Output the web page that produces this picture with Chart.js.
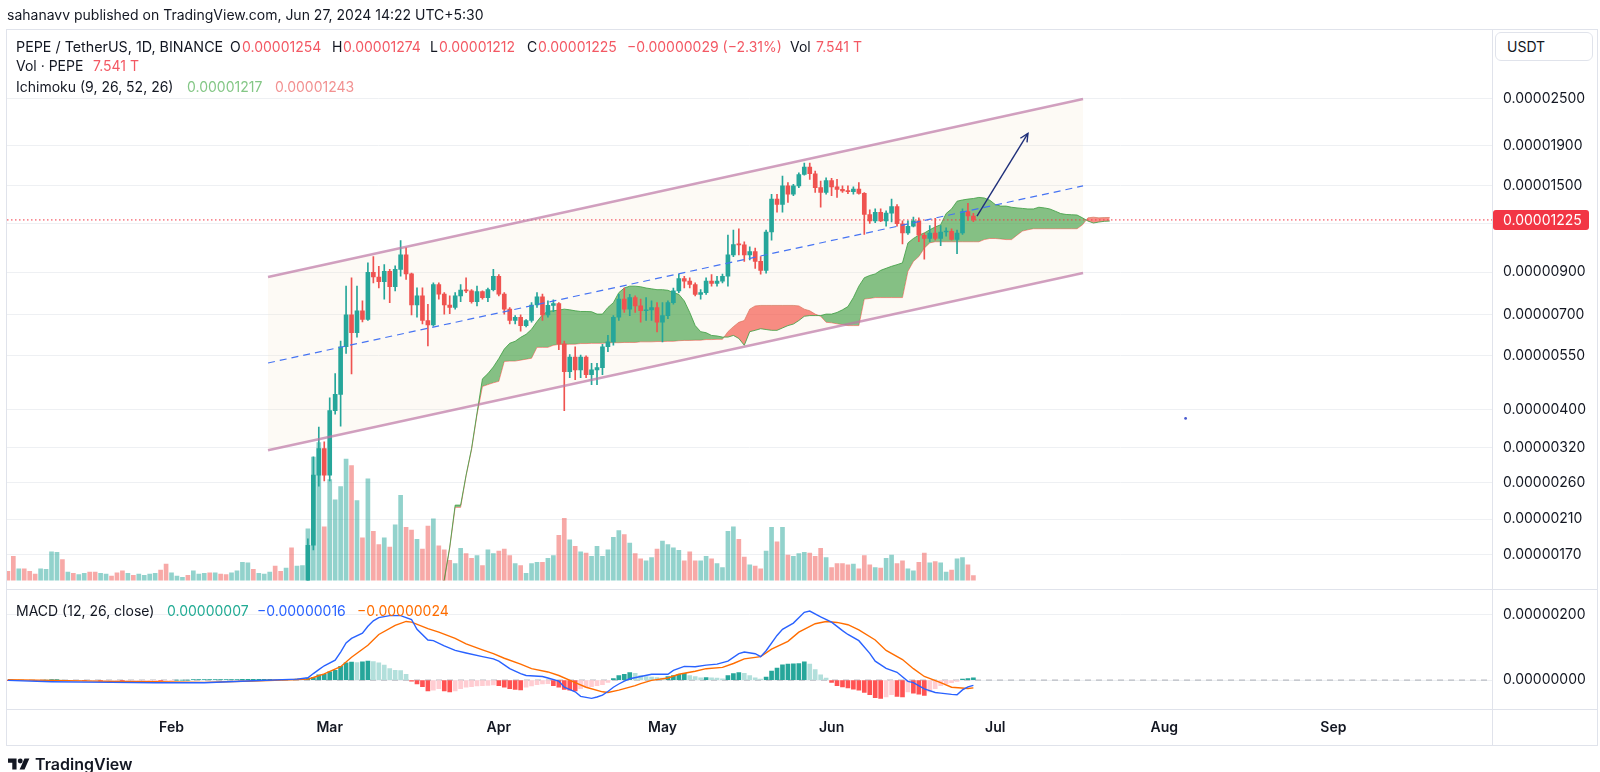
<!DOCTYPE html>
<html>
<head>
<meta charset="utf-8">
<script src="https://cdn.jsdelivr.net/npm/chart.js@4.4.1/dist/chart.umd.min.js"></script>
<style>
html,body{margin:0;padding:0;background:#fff;width:1600px;height:772px;overflow:hidden;font-family:Inter,"Noto Sans","DejaVu Sans",sans-serif;color:#131722;}
canvas{position:absolute;left:0;}
#cMain{top:0;}
#cMacd{top:580px;}
.txt{position:absolute;white-space:nowrap;font-size:14px;line-height:16px;z-index:5;}
.r{color:#f35863;}
.frame{position:absolute;border:1px solid #e0e3eb;box-sizing:border-box;left:6px;top:29px;width:1592px;height:717px;z-index:1;pointer-events:none;}
.hl{position:absolute;height:1px;background:#e0e3eb;left:6px;width:1592px;z-index:1;}
.vl{position:absolute;width:1px;background:#e0e3eb;z-index:1;}
#usdt{position:absolute;left:1495px;top:32px;width:98px;height:29px;box-sizing:border-box;border:1px solid #e0e3eb;border-radius:6px;font-size:14px;line-height:27px;padding-left:11px;z-index:5;background:#fff;}
#footer{position:absolute;left:8px;top:754px;display:flex;align-items:center;gap:5px;font-size:16px;font-weight:600;z-index:5;}
</style>
</head>
<body>
<canvas id="cMain" width="1600" height="600"></canvas>
<canvas id="cMacd" width="1600" height="192"></canvas>

<div class="frame"></div>
<div class="hl" style="top:589px"></div>
<div class="hl" style="top:709px"></div>
<div class="vl" style="left:1492px;top:29px;height:717px"></div>

<div class="txt" style="left:7px;top:7px">sahanavv published on TradingView.com, Jun 27, 2024 14:22 UTC+5:30</div>

<div class="txt" style="left:16px;top:39px;font-size:14.3px">PEPE / TetherUS, 1D, BINANCE</div>
<div class="txt" style="left:230px;top:39px">O</div><div class="txt r" style="left:242px;top:39px">0.00001254</div>
<div class="txt" style="left:332px;top:39px">H</div><div class="txt r" style="left:343px;top:39px">0.00001274</div>
<div class="txt" style="left:430px;top:39px">L</div><div class="txt r" style="left:439px;top:39px">0.00001212</div>
<div class="txt" style="left:527px;top:39px">C</div><div class="txt r" style="left:538px;top:39px">0.00001225</div>
<div class="txt r" style="left:627px;top:39px">−0.00000029 (−2.31%)</div>
<div class="txt" style="left:790px;top:39px">Vol</div><div class="txt r" style="left:816px;top:39px">7.541 T</div>

<div class="txt" style="left:16px;top:58px">Vol · PEPE</div><div class="txt r" style="left:93px;top:58px">7.541 T</div>
<div class="txt" style="left:16px;top:79px">Ichimoku (9, 26, 52, 26)</div>
<div class="txt" style="left:187px;top:79px;color:#84c786">0.00001217</div>
<div class="txt" style="left:275px;top:79px;color:#f29191">0.00001243</div>

<div class="txt" style="left:16px;top:603px">MACD (12, 26, close)</div>
<div class="txt" style="left:167px;top:603px;color:#22ab94">0.00000007</div>
<div class="txt" style="left:257px;top:603px;color:#2962ff">−0.00000016</div>
<div class="txt" style="left:357px;top:603px;color:#ff6d00">−0.00000024</div>

<div id="usdt">USDT</div>

<div id="footer">
<svg width="22" height="16" viewBox="0 0 36 26"><path d="M14 22H7V11H0V4h14z" fill="#131722"/><circle cx="20" cy="8" r="4" fill="#131722"/><path d="M27 4h8L27 22h-8z" fill="#131722"/></svg>
<span>TradingView</span>
</div>

<script>
// ---------------- DATA (prices in units of 1e-8 USDT, volume in trillions PEPE) ----------------
const UNIT = 1e-8;
const firstDay = 1;            // day index: 0 = 2024-01-01, so first candle = Jan 2
const monthTickDays = [31, 60, 91, 121, 152, 182, 213, 244];
const monthTickLabels = ['Feb', 'Mar', 'Apr', 'May', 'Jun', 'Jul', 'Aug', 'Sep'];
const priceTicks = [170, 210, 260, 320, 400, 550, 700, 900, 1200, 1500, 1900, 2500];
const macdTicks = [0, 200];

const open = [138,132,124,127,122,118,116,119,123,130, 134,126,128,124,126,127,124,119,121,122,
118,113,104,106,103,105,107,108,110,106, 101,104,105,106,104,108,109,110,108,110,
108,107,109,112,120,124,119,121,122,124, 118,116,119,113,117,124,180,272,318,272,
398,438,580,700,630,717,681,899,875,851, 905,826,915,997,891,742,783,677,660,837,
791,742,731,783,810,806,757,803,775,812, 879,791,724,677,690,657,677,742,779,700,
740,748,590,501,546,506,546,492,506,513, 580,597,690,768,724,775,738,717,721,731,
670,697,752,806,867,854,837,790,798,854, 842,854,879,997,1060,1057,997,1016,959,910,
1141,1385,1342,1497,1425,1497,1601,1672,1608,1482, 1440,1545,1488,1467,1453,1448,1470,1432,1265,1217,
1282,1217,1275,1325,1198,1134,1180,1219,1119,1098, 1134,1098,1141,1145,1092,1134,1287,1254];
const high = [140,134,129,129,124,120,121,125,132,137, 135,130,129,127,129,128,125,122,123,123,
119,114,107,107,106,108,109,111,111,107, 105,106,107,107,109,110,111,111,111,111,
109,110,113,122,126,125,122,123,125,126, 119,120,121,118,128,187,303,361,331,429,
495,600,829,871,829,760,951,987,932,941, 915,935,1085,1039,895,821,821,745,845,845,
798,783,798,837,871,812,829,806,820,915, 887,798,731,697,700,681,752,798,791,760,
765,752,600,554,580,552,550,526,526,588, 620,697,790,820,790,783,768,775,760,752,
752,760,820,890,879,871,845,812,871,887, 879,890,1120,1153,1163,1077,1046,1037,987,1153,
1425,1425,1586,1526,1511,1617,1712,1714,1633,1540, 1571,1565,1556,1497,1497,1488,1526,1440,1300,1307,
1307,1292,1385,1342,1219,1219,1245,1240,1134,1185, 1237,1185,1170,1163,1153,1307,1351,1274];
const low = [131,122,122,120,116,114,115,118,122,128, 124,125,122,123,125,122,118,118,120,117,
112,101,102,102,102,104,106,107,105,99, 100,103,104,103,103,107,108,107,107,107,
106,106,108,111,118,118,118,120,121,117, 115,115,111,112,116,122,175,255,263,263,
390,363,558,494,614,671,677,845,820,768, 752,806,879,863,700,690,664,583,655,768,
703,705,724,757,798,750,738,768,757,806, 783,703,664,664,636,652,670,731,677,690,
713,570,398,483,478,483,483,464,464,492, 563,585,677,710,697,710,670,677,677,633,
597,684,745,798,820,820,783,768,790,829, 829,845,829,987,997,959,968,921,890,895,
1088,1282,1282,1359,1413,1482,1595,1556,1440,1320, 1425,1413,1399,1440,1430,1425,1425,1125,1200,1206,
1212,1180,1210,1180,1063,1125,1175,1077,972,1077, 1088,1052,1113,1088,1004,1125,1222,1212];
const close = [132,124,127,122,118,116,119,123,130,134, 126,128,124,126,127,124,119,121,122,118,
113,104,106,103,105,107,108,110,106,101, 104,105,106,104,108,109,110,108,110,108,
107,109,112,120,124,119,121,122,124,118, 116,119,113,117,124,180,272,318,272,398,
438,580,700,630,717,681,899,875,851,905, 826,915,997,891,742,783,677,660,837,791,
742,731,783,810,806,757,803,775,812,879, 791,724,677,690,657,677,742,779,700,740,
748,590,501,546,506,546,492,506,513,580, 597,690,768,724,775,738,717,721,731,670,
697,752,806,867,854,837,790,798,854,842, 854,879,997,1060,1057,997,1016,959,910,1141,
1385,1342,1497,1425,1497,1601,1672,1608,1482,1440, 1545,1488,1467,1453,1448,1470,1432,1265,1217,1282,
1217,1275,1325,1198,1134,1180,1219,1119,1098,1134, 1098,1141,1145,1092,1134,1287,1254,1225];
const volumeT = [14,37,18,18,14,10,18,17,44,43, 32,13,11,9,11,13,13,11,10,7,
12,15,11,8,10,8,10,11,16,25, 12,7,5,8,15,10,11,12,12,10,
9,12,15,28,27,17,11,10,13,22, 14,19,50,22,23,79,188,210,82,154,
123,143,185,175,122,65,155,75,55,65, 51,85,130,81,77,63,48,83,94,53,
47,31,26,49,41,34,38,23,47,41, 45,48,38,26,23,11,26,28,28,34,
38,69,95,62,52,44,42,37,52,37, 47,66,76,70,57,41,33,30,35,48,
60,55,50,46,30,44,30,30,37,33, 26,20,75,82,63,36,24,22,18,45,
81,59,81,39,37,41,43,42,37,49, 35,20,26,26,24,25,18,38,24,20,
19,34,39,26,30,18,15,28,42,27, 29,27,13,16,33,35,24,7.541];

// MACD (12, 26, close) – histogram per day, lines read at sample days
const macdHist = [-1,-2,-2,-1,-1,-2,-1,0,1,1, 0,-1,-1,-1,-2,-2,-2,-3,-3,-3,
-3,-4,-3,-3,-2,-2,-1,-1,-2,-2, -1,0,0,0,1,1,1,1,1,1,
1,1,1,2,2,2,2,2,2,1, 1,2,2,3,4,6,8,16,18,25,
30,42,53,55,54,56,58,57,53,46, 35,30,29,18,-3,-12,-20,-33,-31,-26,
-33,-36,-33,-26,-21.5,-20,-18,-17,-16,-15, -17,-21.5,-26,-29,-30,-21.5,-18,-14,-12,-11,
-17,-21.5,-29,-31,-33,-26,-21.5,-20,-17,-14, -7.5,4.7,14,18,23,20.6,14,11,9,8,
6.5,11,14,18,20.6,14,11,7,8,7, 6,4,14,20,23,21,14,7,3,9,
28,37,47,49,50,51,56,49,32,16, 6.5,-7.5,-17,-21,-24,-28,-31,-38,-45,-54,
-56,-52,-45,-50,-52,-36,-40,-43,-47,-36, -26,-17,-12,-8,-4,3,5,7];
const macdDays = [1,9,20,28,37,46,54,56,57,58,59,61,62,63,64,66,67,68,69,71,73,75,76,78,79,81,83,85,88,90,91,93,95,96,99,100,102,103,105,106,108,109,110,111,112,113,114,115,117,119,122,123,125,127,129,131,133,135,136,138,139,140,142,143,145,147,148,150,152,154,155,157,159,160,162,164,166,167,169,171,172,174,175,176,177,178];
const macdLine = [-1,-5,-7,-8,-8,-2,3,7,20,32,44,61,86,114,128,144,165,182,192,198,198,186,156,123,121,105,91,83,72,65,58,35,20,14,11,6.5,-3,-22,-36,-50,-56,-52,-46,-35,-22,-12,-3,4,11,18,18,30,42,41,46,49,58,81,86,81,72,90,137,156,175,208,212,194,178,152,140,121,82,58,36,24,-4,-8,-27,-38,-40,-44,-45,-30,-21,-16];
const signalDays = [1,9,20,28,37,46,54,56,57,59,62,64,67,69,72,74,75,78,80,83,85,88,90,92,95,97,100,102,105,107,110,111,113,116,117,119,122,124,127,129,132,134,136,139,141,144,146,149,151,153,155,157,160,162,165,167,169,172,174,177,178];
const signalLine = [1,-1,-4,-5,-7,-3,2,3,8,19,41,70,107,140,168,180,178,158,147,128,111,93,81,67,49,35,25,14,-8,-22,-36,-38,-31,-17,-11,-1,6.5,18,27,35,39,51,65,72,95,119,147,173,180,177,170,154,123,91,63,35,11,-8,-22,-26,-24];

// Ichimoku (9, 26, 52, 26) leading spans, shifted 26 days ahead; first value at day 80
const cloudFirstDay = 80;
const spanA = [135,147,178,228,228,272,318,392,480,495, 515,541,572,592,599,613,624,643,673,700,
715,717,720,724,721,717,714,714,713,703, 703,731,752,798,820,829,829,826,820,816,
812,812,809,798,790,760,710,657,634,630, 620,618,614,614,620,609,585,634,639,645,
642,639,639,648,657,663,677,694,697,697, 697,703,703,710,721,735,775,829,871,883,
891,910,921,932,941,951,1070,1098,1120,1134, 1156,1175,1191,1272,1307,1368,1378,1385,1390,1399,
1394,1376,1342,1329,1329,1320,1315,1311,1307,1307, 1320,1315,1307,1290,1272,1265,1263,1261,1240,1217,
1203,1210,1215,1217];
const spanB = [133,146,177,225,225,271,316,388,459,464, 469,473,532,533,533,536,539,542,578,578,
578,585,588,588,589,589,591,591,592,592, 592,594,594,594,595,595,595,597,597,597,
598,598,599,599,601,602,602,603,603,605, 605,606,606,634,653,670,677,724,738,740,
740,740,740,740,740,740,738,724,717,703, 694,670,668,664,661,657,657,657,768,771,
775,775,775,775,775,775,905,959,987,1037, 1070,1077,1077,1077,1077,1077,1077,1077,1077,1077,
1091,1098,1098,1095,1091,1091,1120,1147,1156,1163, 1163,1163,1163,1163,1163,1163,1163,1163,1190,1240,
1245,1240,1242,1243];

// Drawings: parallel channel, arrow, dot, last price
const channelDays = [48.69, 198.1];
const channelUpper = [875.5, 2500];
const channelLower = [315, 896];
const channelMiddle = [527, 1497];
const arrowDays = [178.66, 188.0];
const arrowPrices = [1253, 2040];
const dotDays = [216.9];
const dotPrices = [380];
const lastPrice = 1225;

// ---------------- view ----------------
const X_MIN = 0.84, X_MAX = 273.07;
const P_MIN = 146.1, P_MAX = 3775.8;
const M_MIN = -90.3, M_MAX = 247.7;
const FONT = "Inter, 'Noto Sans', 'DejaVu Sans', sans-serif";
Chart.defaults.font.family = FONT;
Chart.defaults.color = '#131722';

const fmt = v => (v * UNIT).toFixed(8);
const days = open.map((_, i) => firstDay + i);
const isUp = i => close[i] >= open[i];
const GREEN = '#26a69a', RED = '#ef5350';
const candleColor = days.map((_, i) => isUp(i) ? GREEN : RED);
const volColor = days.map((_, i) => isUp(i) ? 'rgba(38,166,154,0.5)' : 'rgba(239,83,80,0.5)');
const pts = (xs, ys) => xs.map((x, i) => ({x, y: ys[i]}));
const cloudDays = spanA.map((_, i) => cloudFirstDay + i);

const lineDs = (data, color, width, extra) => Object.assign({
  type: 'line', data, borderColor: color, borderWidth: width, pointRadius: 0, fill: false, tension: 0
}, extra || {});

const ARROW_COLOR = '#1f2f7a';
const mainDatasets = [
  lineDs(pts(channelDays, channelUpper), 'rgba(0,0,0,0)', 0, {fill: '+1', backgroundColor: 'rgba(245,232,205,0.2)', order: 40}),
  lineDs(pts(channelDays, channelLower), 'rgba(0,0,0,0)', 0, {order: 40}),
  lineDs(pts(cloudDays, spanA), 'rgba(67,160,71,0.85)', 1, {fill: {target: '+1', above: 'rgba(67,160,71,0.65)', below: 'rgba(244,67,54,0.6)'}, order: 15}),
  lineDs(pts(cloudDays, spanB), 'rgba(244,67,54,0.5)', 1, {order: 15}),
  {type: 'bar', yAxisID: 'yVol', data: pts(days, volumeT), backgroundColor: volColor, barThickness: 4, grouped: false, clip: 0, order: 20},
  {type: 'bar', data: days.map((d, i) => ({x: d, y: [low[i], high[i]]})), backgroundColor: candleColor, barThickness: 1, grouped: false, clip: 0, order: 3},
  {type: 'bar', data: days.map((d, i) => ({x: d, y: [Math.min(open[i], close[i]), Math.max(open[i], close[i])]})), backgroundColor: candleColor, barThickness: 4, minBarLength: 1, grouped: false, clip: 0, order: 2},
  lineDs([{x: X_MIN, y: lastPrice}, {x: X_MAX, y: lastPrice}], '#f23645', 1, {borderDash: [1.5, 2.5], order: 4}),
  lineDs(pts(channelDays, channelUpper), 'rgba(190,120,165,0.7)', 2.5, {order: 1}),
  lineDs(pts(channelDays, channelLower), 'rgba(190,120,165,0.7)', 2.5, {order: 1}),
  lineDs(pts(channelDays, channelMiddle), '#4674f3', 1.2, {borderDash: [7, 5], order: 1}),
  lineDs(pts(arrowDays, arrowPrices), ARROW_COLOR, 1.4, {order: 0}),
  lineDs(pts(dotDays, dotPrices), '#4a5bd0', 0, {showLine: false, pointRadius: 1.4, pointBackgroundColor: '#4a5bd0', order: 0})
];
const ARROW_IDX = 11;

const arrowHead = {
  id: 'arrowHead',
  afterDatasetsDraw(chart) {
    const m = chart.getDatasetMeta(ARROW_IDX);
    const p0 = m.data[0], p1 = m.data[1];
    const ctx = chart.ctx;
    const ang = Math.atan2(p1.y - p0.y, p1.x - p0.x);
    const L = 9, a = Math.PI / 7;
    ctx.save();
    ctx.strokeStyle = ARROW_COLOR; ctx.lineWidth = 1.4;
    ctx.beginPath();
    ctx.moveTo(p1.x - L * Math.cos(ang - a), p1.y - L * Math.sin(ang - a));
    ctx.lineTo(p1.x, p1.y);
    ctx.lineTo(p1.x - L * Math.cos(ang + a), p1.y - L * Math.sin(ang + a));
    ctx.stroke();
    ctx.restore();
  }
};
const lastLabel = {
  id: 'lastLabel',
  afterDraw(chart) {
    const ctx = chart.ctx;
    const y = chart.scales.y.getPixelForValue(lastPrice);
    const x = chart.chartArea.right + 1;
    ctx.save();
    ctx.fillStyle = '#f23645';
    ctx.beginPath();
    ctx.roundRect(x, y - 10, 96, 20, 3);
    ctx.fill();
    ctx.fillStyle = '#ffffff';
    ctx.font = '14px ' + FONT;
    ctx.textBaseline = 'middle';
    ctx.fillText(fmt(lastPrice), chart.chartArea.right + 11, y + 0.5);
    ctx.restore();
  }
};

new Chart(document.getElementById('cMain'), {
  type: 'line',
  data: {datasets: mainDatasets},
  options: {
    responsive: false, animation: false, events: [],
    layout: {padding: {top: 29, bottom: 11, left: 7, right: 0}},
    plugins: {legend: {display: false}, tooltip: {enabled: false}},
    scales: {
      x: {type: 'linear', min: X_MIN, max: X_MAX, offset: false, display: false},
      y: {
        type: 'logarithmic', position: 'right', min: P_MIN, max: P_MAX,
        afterBuildTicks: s => { s.ticks = priceTicks.map(v => ({value: v})); },
        afterFit: s => { s.width = 108; },
        ticks: {callback: v => (v === 1200 ? '' : fmt(v)), font: {size: 14}, color: '#131722', padding: 11, autoSkip: false},
        grid: {color: '#eef0f3', drawTicks: false},
        border: {display: false}
      },
      yVol: {type: 'linear', min: 0, max: 840, display: false}
    }
  },
  plugins: [arrowHead, lastLabel]
});

const histColor = macdHist.map((v, i) => {
  const prev = i > 0 ? macdHist[i - 1] : 0;
  if (v >= 0) return v >= prev ? '#26a69a' : '#b2dfdb';
  return v < prev ? '#ff5252' : '#ffcdd2';
});

new Chart(document.getElementById('cMacd'), {
  type: 'line',
  data: {datasets: [
    lineDs([{x: X_MIN, y: 0}, {x: X_MAX, y: 0}], '#a9acb5', 1, {borderDash: [6, 5], order: 5}),
    {type: 'bar', data: pts(days, macdHist), backgroundColor: histColor, barThickness: 4, grouped: false, clip: 0, order: 3},
    lineDs(pts(signalDays, signalLine), '#ff6d00', 1.4, {order: 1}),
    lineDs(pts(macdDays, macdLine), '#2962ff', 1.4, {order: 0})
  ]},
  options: {
    responsive: false, animation: false, events: [],
    layout: {padding: {top: 9, bottom: 26.5, left: 7, right: 0}},
    plugins: {legend: {display: false}, tooltip: {enabled: false}},
    scales: {
      x: {
        type: 'linear', min: X_MIN, max: X_MAX, offset: false, position: 'bottom',
        afterBuildTicks: s => { s.ticks = monthTickDays.map(v => ({value: v})); },
        afterFit: s => { s.height = 36; },
        ticks: {callback: v => monthTickLabels[monthTickDays.indexOf(v)], font: {size: 14, weight: '600'}, color: '#131722', padding: 10, maxRotation: 0, autoSkip: false},
        grid: {display: false, drawTicks: false},
        border: {display: false}
      },
      y: {
        type: 'linear', position: 'right', min: M_MIN, max: M_MAX,
        afterBuildTicks: s => { s.ticks = macdTicks.map(v => ({value: v})); },
        afterFit: s => { s.width = 108; },
        ticks: {callback: v => fmt(v), font: {size: 14}, color: '#131722', padding: 11, autoSkip: false},
        grid: {color: '#eef0f3', drawTicks: false},
        border: {display: false}
      }
    }
  }
});
</script>
</body>
</html>
